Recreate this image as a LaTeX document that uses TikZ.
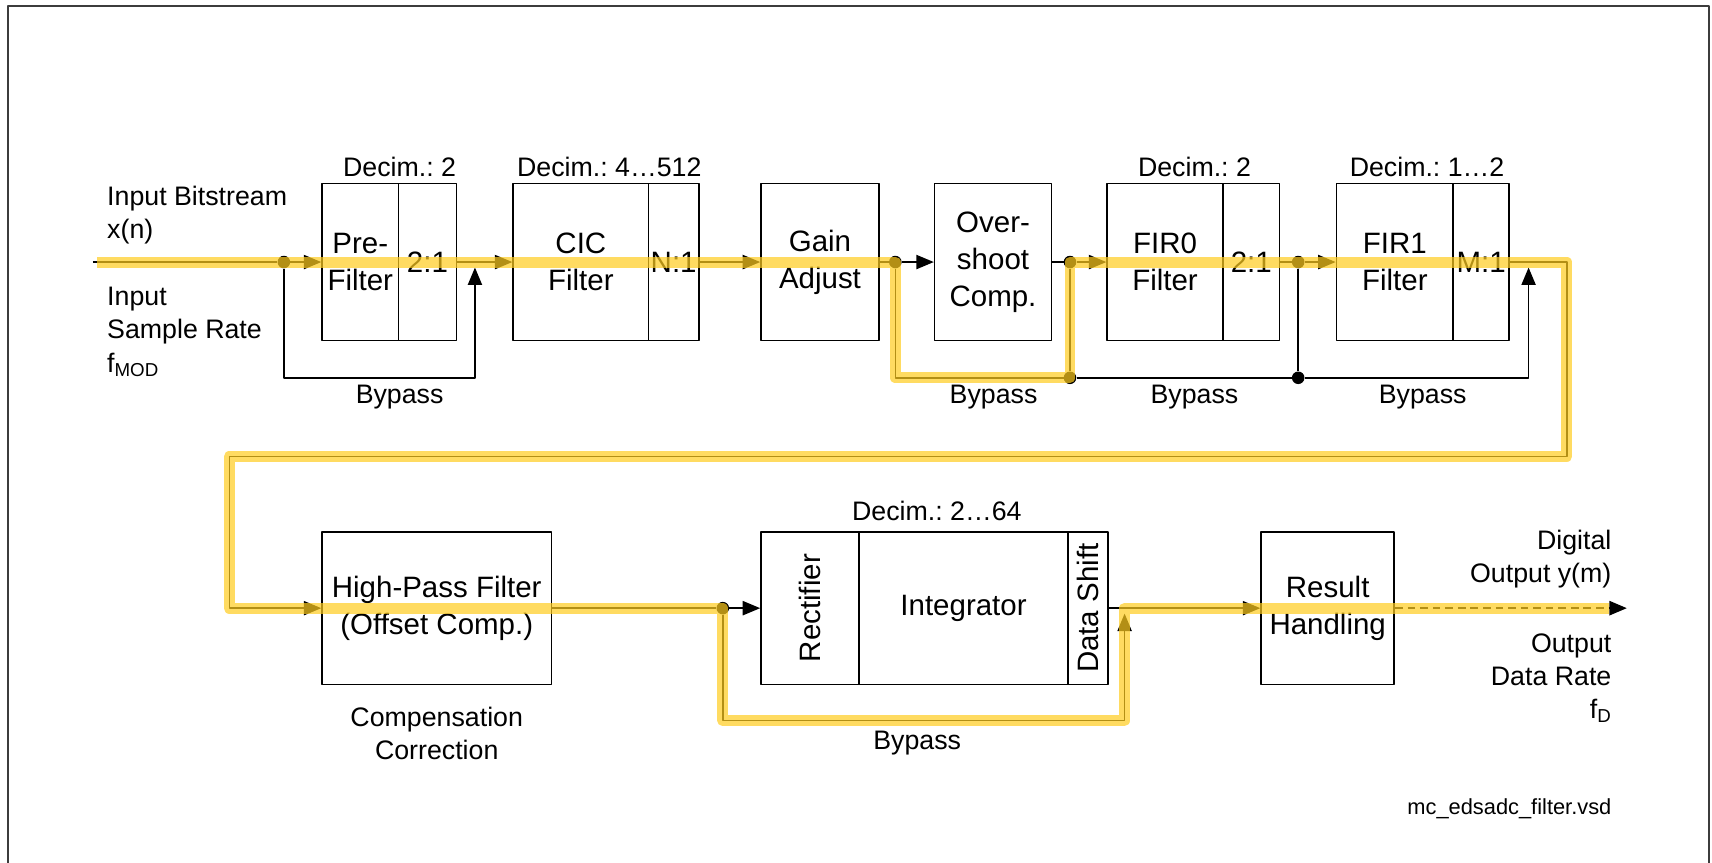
\documentclass[tikz,border=0pt]{standalone}
\usepackage{fontspec}
\setmainfont{Liberation Sans}
\usepackage{xcolor}
\usetikzlibrary{arrows.meta}
\newcommand{\boxfont}{\fontsize{27}{34}\selectfont}
\newcommand{\lblfont}{\fontsize{24.5}{30.5}\selectfont}
\newcommand{\filefont}{\fontsize{20}{24}\selectfont}
\definecolor{hlyellow}{RGB}{255,204,30}
\definecolor{framegray}{RGB}{60,60,60}
\tikzstyle{box} = [draw,line width=1.5pt,inner sep=0pt,minimum height=144pt,font=\boxfont,align=center]
\tikzstyle{lbl} = [inner sep=0pt,font=\lblfont,align=center]
\tikzstyle{wire} = [line width=1.4pt]
\tikzstyle{sig} = [line width=1.4pt,-{Triangle[length=16pt,width=13pt]}]
\tikzstyle{dot} = [circle,fill=black,inner sep=0pt,minimum size=11.5pt]
\tikzstyle{hl} = [line width=10pt,color=hlyellow,opacity=0.7,line join=round]
\frenchspacing

\begin{document}
\begin{tikzpicture}[line join=round,x=1pt,y=-1pt]
    \useasboundingbox (0,0) rectangle (1568,790);
    \draw [line width=2pt,color=framegray] (7.3,790) -- (7.3,5.5) -- (1565,5.5) -- (1565,790);

    % first row
    \node[box,minimum width=70pt] (pre) at (330,240) {Pre-\\Filter};
    \node[box,minimum width=53pt] (predec) at (391.5,240) {2:1};
    \node[box,minimum width=124pt] (cic) at (532,240) {CIC\\Filter};
    \node[box,minimum width=46pt] (cicdec) at (617,240) {N:1};
    \node[box,minimum width=108pt] (gain) at (751,240) {Gain\\Adjust};
    \node[box,minimum width=107pt] (over) at (909.5,240) {Over-\\shoot\\Comp.};
    \node[box,minimum width=106pt] (fir0) at (1067,240) {FIR0\\Filter};
    \node[box,minimum width=52pt] (fir0dec) at (1146,240) {2:1};
    \node[box,minimum width=107pt] (fir1) at (1277.5,240) {FIR1\\Filter};
    \node[box,minimum width=51pt] (fir1dec) at (1356.5,240) {M:1};

    \node[lbl] (predecim) at (366,153) {Decim.: 2};
    \node[lbl] (cicdecim) at (558,153) {Decim.: 4…512};
    \node[lbl] (fir0decim) at (1094,153) {Decim.: 2};
    \node[lbl] (fir1decim) at (1307,153) {Decim.: 1…2};
    \node[lbl] (prebyp) at (366,364) {Bypass};
    \node[lbl] (overbyp) at (910,364) {Bypass};
    \node[lbl] (fir0byp) at (1094,364) {Bypass};
    \node[lbl] (fir1byp) at (1303,364) {Bypass};

    \node[lbl,anchor=west,align=left] (intext) at (98,197) {Input Bitstream\\x(n)};
    \node[lbl,anchor=west,align=left] (ratetext) at (98,304) {Input\\Sample Rate\\f\textsubscript{MOD}};

    \coordinate (in) at (85,240);
    \node[dot] (d1) at (260,240) {};
    \coordinate (m1) at (435,240);
    \node[dot] (d2) at (820,240) {};
    \node[dot] (d3) at (980,240) {};
    \node[dot] (d4) at (980,346) {};
    \node[dot] (d5) at (1189,346) {};
    \node[dot] (d6) at (1189,240) {};
    \coordinate (m2) at (1400,240);
    \coordinate (r1) at (1435,240);
    \coordinate (r2) at (1435,418);
    \coordinate (r3) at (210,418);
    \coordinate (r4) at (210,557);

    \draw[wire] (in) -- (d1);
    \draw[sig] (d1) -- (pre.west);
    \draw[sig,shorten >=5pt] (d1) -- ++(0,106) -| (m1);
    \draw[sig] (predec.east) -- (cic.west);
    \draw[sig] (cicdec.east) -- (gain.west);
    \draw[wire] (gain.east) -- (d2);
    \draw[sig] (d2) -- (over.west);
    \draw[wire] (over.east) -- (d3);
    \draw[sig] (d3) -- (fir0.west);
    \draw[wire] (d2) |- (d4);
    \draw[wire] (d4) -- (d3);
    \draw[wire] (d4) -- (d5);
    \draw[sig,shorten >=5pt] (d5) -| (m2);
    \draw[wire] (fir0dec.east) -- (d6);
    \draw[sig] (d6) -- (fir1.west);
    \draw[wire] (d6) -- (d5);

    % second row
    \node[box,minimum width=210pt,minimum height=140pt] (hp) at (400,557) {High-Pass Filter\\(Offset Comp.)};
    \node[box,minimum width=90pt,minimum height=140pt] (rect) at (742,557) {};
    \node[box,minimum width=191pt,minimum height=140pt] (integ) at (882.5,557) {Integrator};
    \node[box,minimum width=37pt,minimum height=140pt] (shift) at (996.5,557) {};
    \node[box,minimum width=122pt,minimum height=140pt] (result) at (1216,557) {Result\\Handling};
    \node[font=\boxfont,rotate=90,inner sep=0pt] (recttext) at (rect) {Rectifier};
    \node[font=\boxfont,rotate=90,inner sep=0pt] (shifttext) at (shift) {Data Shift};

    \node[lbl] (intdecim) at (858,468) {Decim.: 2…64};
    \node[lbl] (hpnote) at (400,672) {Compensation\\Correction};
    \node[lbl] (intbyp) at (840,681) {Bypass};
    \node[lbl,anchor=east,align=right] (outtext) at (1476,512) {Digital\\Output y(m)};
    \node[lbl,anchor=east,align=right] (ratetext2) at (1476,621) {Output\\Data Rate\\f\textsubscript{D}};
    \node[inner sep=0pt,font=\filefont,anchor=east] (fname) at (1476,741) {mc\_edsadc\_filter.vsd};

    \node[dot] (d7) at (662,557) {};
    \coordinate (m3) at (1030,557);
    \coordinate (out) at (1490,557);

    \draw[sig] (fir1dec.east) -- (r1) -- (r2) -- (r3) -- (r4) -- (hp.west);
    \draw[wire] (hp.east) -- (d7);
    \draw[sig] (d7) -- (rect.west);
    \draw[sig,shorten >=5pt] (d7) -- ++(0,103) -| (m3);
    \draw[sig] (shift.east) -- (result.west);
    \draw[sig,line width=2pt,dash pattern=on 7pt off 4.5pt] (result.east) -- (out);

    % highlighted signal path
    \draw[hl] (89,240) -- (d2.center) -- ++(0,106) -| (d3.center) -- (r1) -- (r2) -- (r3) -- (r4)
        -- (d7.center) -- ++(0,103) -| (m3) -- (1474,557);
\end{tikzpicture}
\end{document}
